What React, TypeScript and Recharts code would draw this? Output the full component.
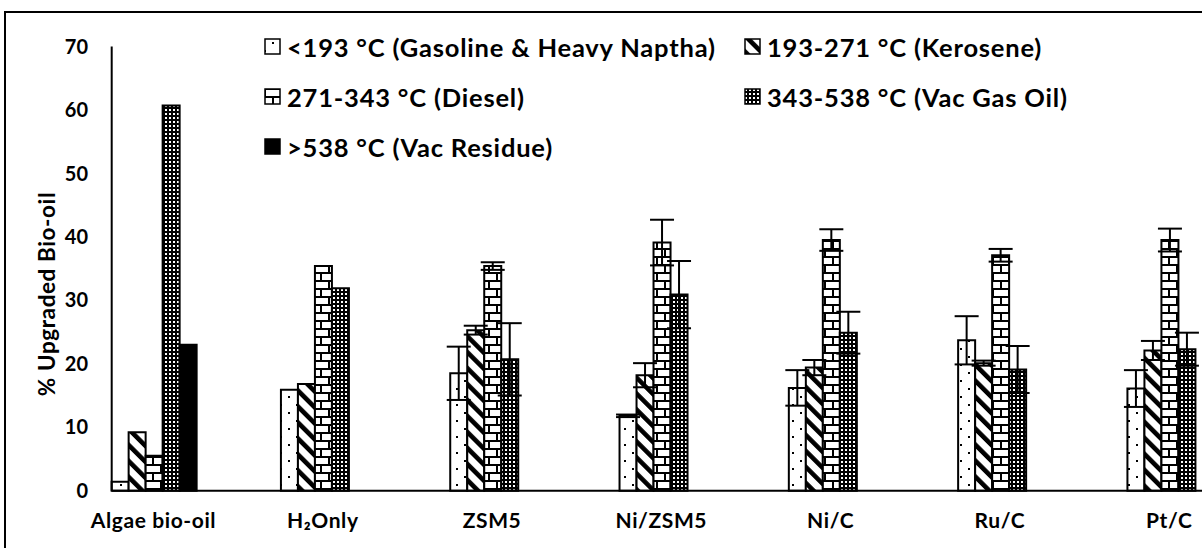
import { BarChart, Bar, XAxis, YAxis, ErrorBar } from 'recharts';

// Catalyst runs along the x axis
const categories = ['Algae bio-oil', 'H₂Only', 'ZSM5', 'Ni/ZSM5', 'Ni/C', 'Ru/C', 'Pt/C'];

// Boiling-range fractions (% of upgraded bio-oil) and their error bars
const gasoline = [1.4, 15.9, 18.5, 11.8, 16.2, 23.7, 16.1];
const gasolineErr = [null, null, 4.2, 0.2, 2.8, 3.8, 2.9];
const kerosene = [9.2, 16.8, 25.3, 18.2, 19.4, 20.1, 22.1];
const keroseneErr = [null, null, 0.7, 1.9, 1.2, 0.4, 1.5];
const diesel = [5.5, 35.4, 35.4, 39.1, 39.5, 37.1, 39.5];
const dieselErr = [null, null, 0.6, 3.6, 1.7, 1.0, 1.8];
const vacGasOil = [60.7, 31.9, 20.7, 30.9, 24.9, 19.1, 22.3];
const vacGasOilErr = [null, null, 5.7, 5.3, 3.3, 3.7, 2.6];
const vacResidue = [23.0, null, null, null, null, null, null];

const yTicks = [0, 10, 20, 30, 40, 50, 60, 70];

const series = [
  { key: 'gasoline', err: 'gasolineErr', name: '<193 °C (Gasoline & Heavy Naptha)', fill: 'url(#pDots)', icon: 'dots' },
  { key: 'kerosene', err: 'keroseneErr', name: '193-271 °C (Kerosene)', fill: 'url(#pDiag)', icon: 'diag' },
  { key: 'diesel', err: 'dieselErr', name: '271-343 °C (Diesel)', fill: 'url(#pBrick)', icon: 'brick' },
  { key: 'vacGasOil', err: 'vacGasOilErr', name: '343-538 °C (Vac Gas Oil)', fill: 'url(#pGrid)', icon: 'grid' },
  { key: 'vacResidue', err: null, name: '>538 °C (Vac Residue)', fill: '#000', icon: 'solid' },
];

const chartData = categories.map((name, i) => ({
  name,
  gasoline: gasoline[i],
  gasolineErr: gasolineErr[i],
  kerosene: kerosene[i],
  keroseneErr: keroseneErr[i],
  diesel: diesel[i],
  dieselErr: dieselErr[i],
  vacGasOil: vacGasOil[i],
  vacGasOilErr: vacGasOilErr[i],
  vacResidue: vacResidue[i],
}));

const FONT = 'Lato, "Open Sans", sans-serif';

// Fill patterns shared by bars and legend swatches
const Patterns = ({ suffix = '' }: { suffix?: string }) => (
  <defs>
    <pattern id={`pDots${suffix}`} patternUnits="userSpaceOnUse" width={16} height={16}>
      <rect width={16} height={16} fill="#fff" />
      <rect x={8} y={4} width={2} height={2} fill="#000" />
      <rect x={0} y={12} width={2} height={2} fill="#000" />
    </pattern>
    <pattern id={`pDiag${suffix}`} patternUnits="userSpaceOnUse" width={11.3} height={11.3} patternTransform="rotate(-45)">
      <rect width={11.3} height={11.3} fill="#fff" />
      <rect x={0} width={4.6} height={11.3} fill="#000" />
    </pattern>
    <pattern id={`pBrick${suffix}`} patternUnits="userSpaceOnUse" width={16} height={16}>
      <rect width={16} height={16} fill="#fff" />
      <rect x={0} y={0} width={16} height={2} fill="#000" />
      <rect x={0} y={8} width={16} height={2} fill="#000" />
      <rect x={0} y={0} width={2} height={8} fill="#000" />
      <rect x={8} y={8} width={2} height={8} fill="#000" />
    </pattern>
    <pattern id={`pGrid${suffix}`} patternUnits="userSpaceOnUse" width={4} height={4}>
      <rect width={4} height={4} fill="#000" />
      <rect x={1} y={1} width={2} height={2} fill="#fff" />
    </pattern>
  </defs>
);

const LegendSwatch = ({ kind }: { kind: string }) => {
  const fill = kind === 'solid' ? '#000' : `url(#p${kind.charAt(0).toUpperCase()}${kind.slice(1)}L)`;
  return (
    <svg width={17} height={17} style={{ display: 'block' }}>
      <Patterns suffix="L" />
      <rect x={1} y={1} width={15} height={15} fill={fill} stroke="#000" strokeWidth={1.5} />
    </svg>
  );
};

const legendSlots = [
  { left: 264, top: 46.7 },
  { left: 744, top: 46.7 },
  { left: 264, top: 96.7 },
  { left: 744, top: 96.7 },
  { left: 264, top: 146.7 },
];

export default function App() {
  return (
    <div
      style={{
        position: 'absolute',
        left: 0,
        top: 0,
        width: 1202,
        height: 548,
        overflow: 'hidden',
        background: '#fff',
        fontFamily: FONT,
      }}
    >
      {/* frame around the figure */}
      <div
        style={{
          position: 'absolute',
          left: 4,
          top: 11,
          width: 1400,
          height: 800,
          borderTop: '2px solid #000',
          borderLeft: '2px solid #000',
        }}
      />

      <div style={{ position: 'absolute', left: 0, top: 0 }}>
        <BarChart
          width={1202}
          height={548}
          data={chartData}
          margin={{ top: 46.5, right: 0, left: 51.7, bottom: 27.3 }}
          barCategoryGap="25.3%"
          barGap={0}
        >
          <Patterns />
          <XAxis
            dataKey="name"
            height={30}
            padding={{ left: -42.9, right: -51.9 }}
            axisLine={{ stroke: '#000', strokeWidth: 2 }}
            tickLine={false}
            tickMargin={16}
            interval={0}
            tick={{ fill: '#000', fontSize: 21, fontWeight: 700, fontFamily: FONT, letterSpacing: 0.6 }}
          />
          <YAxis
            width={60}
            domain={[0, 70]}
            ticks={yTicks}
            axisLine={{ stroke: '#000', strokeWidth: 2 }}
            tickLine={false}
            tickMargin={17.7}
            tick={{ fill: '#000', fontSize: 20, fontWeight: 700, fontFamily: FONT }}
          />
          {series.map((s) => (
            <Bar
              key={s.key}
              dataKey={s.key}
              name={s.name}
              fill={s.fill}
              stroke="#000"
              strokeWidth={2}
              isAnimationActive={false}
            >
              {s.err && (
                <ErrorBar dataKey={s.err} width={12} stroke="#000" strokeWidth={2} direction="y" />
              )}
            </Bar>
          ))}
        </BarChart>
      </div>

      {/* y-axis title */}
      <div
        style={{
          position: 'absolute',
          left: 46,
          top: 294,
          transform: 'translate(-50%, -50%) rotate(-90deg)',
          whiteSpace: 'nowrap',
          fontSize: 22.5,
          fontWeight: 700,
          letterSpacing: 0.6,
          color: '#000',
        }}
      >
        % Upgraded Bio-oil
      </div>

      {/* legend, two columns */}
      {series.map((s, i) => (
        <div
          key={s.key}
          style={{
            position: 'absolute',
            left: legendSlots[i].left,
            top: legendSlots[i].top,
            transform: 'translateY(-50%)',
            display: 'flex',
            alignItems: 'center',
            gap: 6,
            whiteSpace: 'nowrap',
            fontSize: 25.5,
            fontWeight: 700,
            letterSpacing: 0.8,
            color: '#000',
          }}
        >
          <LegendSwatch kind={s.icon} />
          <span>{s.name}</span>
        </div>
      ))}
    </div>
  );
}
